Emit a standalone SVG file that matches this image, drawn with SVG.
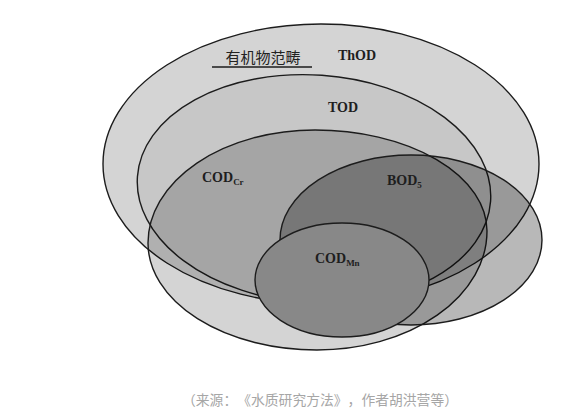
<svg xmlns="http://www.w3.org/2000/svg" width="574" height="416" viewBox="0 0 574 416">
  <style>
    .outline { stroke: #1c1c1c; stroke-width: 1.4; }
    .set { fill: #000; }
    .lbl { font-family: "Liberation Serif", "Times New Roman", serif; font-weight: bold; font-size: 14px; fill: #1e1e1e; }
    .sub { font-size: 9px; }
    .cjk { font-family: "Noto Sans CJK SC", sans-serif; font-size: 15px; fill: #222; }
    .cap { font-family: "Noto Sans CJK SC", sans-serif; font-size: 13.8px; fill: #a6a6a6; }
  </style>
  <rect width="574" height="416" fill="#ffffff"/>
  <g id="node-ThOD">
    <ellipse class="set outline" fill-opacity="0.17" cx="321" cy="164" rx="218" ry="140"/>
    <text class="cjk" x="263" y="63" text-anchor="middle">有机物范畴</text>
    <line x1="212" y1="67" x2="312" y2="67" stroke="#1c1c1c" stroke-width="1.3"/>
    <text class="lbl" x="357" y="60" text-anchor="middle">ThOD</text>
  </g>
  <g id="node-TOD">
    <ellipse class="set outline" fill-opacity="0.06" cx="314" cy="189" rx="177" ry="114" transform="rotate(4 314 189)"/>
    <text class="lbl" x="343" y="112" text-anchor="middle">TOD</text>
  </g>
  <g id="node-CODCr">
    <path class="set outline" fill-opacity="0.17" d="M148,243 A167,113 0 0 1 315,130 A172,101 0 0 1 487,231 A170,119 0 0 1 317,350 A169,107 0 0 1 148,243 Z"/>
    <text class="lbl" x="202" y="182">COD<tspan class="sub" dy="3">Cr</tspan></text>
  </g>
  <g id="node-BOD5">
    <ellipse class="set outline" fill-opacity="0.28" cx="411" cy="240" rx="131" ry="85"/>
    <text class="lbl" x="387" y="185">BOD<tspan class="sub" dy="3">5</tspan></text>
  </g>
  <g id="node-CODMn">
    <ellipse class="outline" fill="#888888" cx="342" cy="280" rx="87" ry="57"/>
    <text class="lbl" x="315" y="263">COD<tspan class="sub" dy="3">Mn</tspan></text>
  </g>
  <g id="connectors"/>
  <g id="caption">
    <text class="cap" x="182 195.8 209.6 223.4 237.2 251 264.8 278.6 292.4 306.2 320 333.8 347.6 361.4 375.2 389 402.8 416.6 430.4 444.2" y="405">（来源：《水质研究方法》，作者胡洪营等）</text>
  </g>
</svg>
